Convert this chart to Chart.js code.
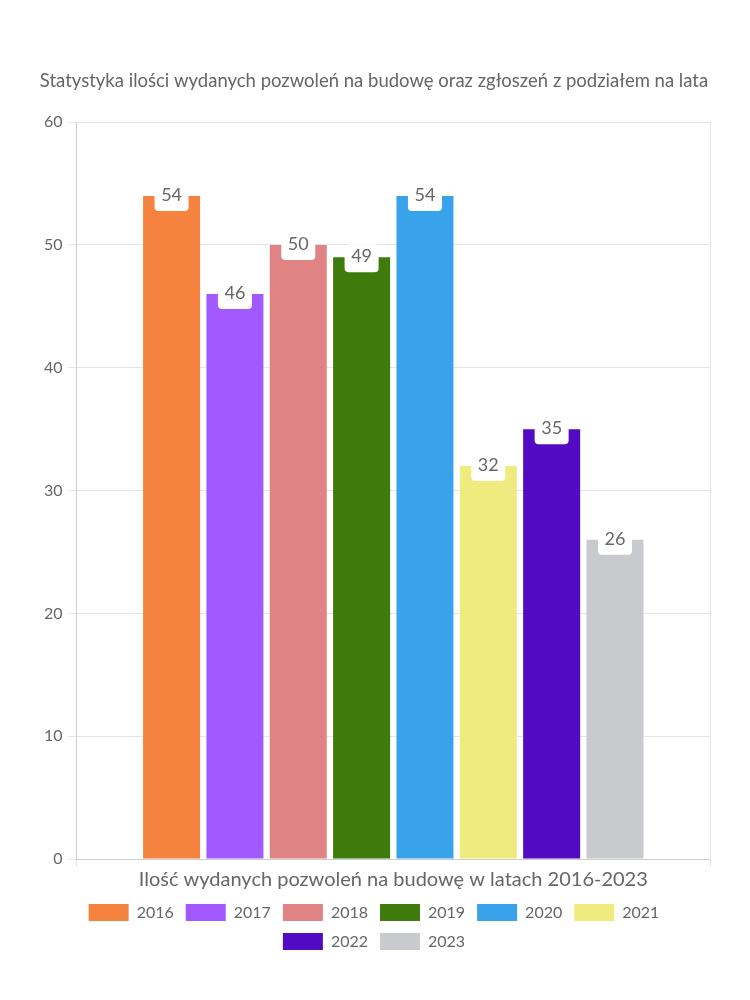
<!DOCTYPE html>
<html>
<head>
<meta charset="utf-8">
<script src="https://cdn.jsdelivr.net/npm/chart.js@4"></script>
<style>
    body { margin: 0; background: #fff; }
    #wrap { width: 750px; height: 1000px; }
</style>
</head>
<body>
<div id="wrap"><canvas id="chart"></canvas></div>
<script>
const categories = ['Ilość wydanych pozwoleń na budowę w latach 2016-2023'];
const years = ['2016', '2017', '2018', '2019', '2020', '2021', '2022', '2023'];
const values = [54, 46, 50, 49, 54, 32, 35, 26];
const colors = ['#F5833F', '#A259FF', '#E08385', '#3E7B0C', '#38A3EB', '#F0EB7E', '#520BC2', '#C9CACD'];

Chart.defaults.font.family = 'Lato, "Noto Sans", sans-serif';
Chart.defaults.color = '#666';

// white callout box with the value, sitting on top of each bar
const valueLabels = {
    id: 'valueLabels',
    afterDatasetsDraw(chart) {
        const ctx = chart.ctx;
        ctx.save();
        chart.data.datasets.forEach(function(ds, i) {
            const bar = chart.getDatasetMeta(i).data[0];
            const x = bar.x, y = bar.y;
            ctx.fillStyle = '#fff';
            ctx.beginPath();
            ctx.roundRect(x - 17, y - 13, 34, 28, 4);
            ctx.fill();
            ctx.fillStyle = '#666';
            ctx.font = '18px Lato, "Noto Sans", sans-serif';
            ctx.textAlign = 'center';
            ctx.textBaseline = 'middle';
            ctx.fillText(String(ds.data[0]), x, y - 1);
        });
        ctx.restore();
    }
};

new Chart(document.getElementById('chart').getContext('2d'), {
    type: 'bar',
    data: {
        labels: categories,
        datasets: years.map(function(y, i) {
            return {
                label: y,
                data: [values[i]],
                backgroundColor: colors[i],
                borderColor: colors[i],
                borderWidth: 0
            };
        })
    },
    options: {
        responsive: true,
        maintainAspectRatio: false,
        animation: false,
        layout: { padding: { left: 38, right: 40, top: 70, bottom: 40 } },
        scales: {
            x: {
                grid: { color: '#e5e5e5', drawOnChartArea: true },
                ticks: { display: false },
                title: {
                    display: true,
                    text: categories[0],
                    font: { size: 20 },
                    padding: { top: 1, bottom: 0 }
                }
            },
            y: {
                min: 0,
                max: 60,
                ticks: { stepSize: 10, font: { size: 16 }, padding: 6 },
                grid: { color: '#e5e5e5' }
            }
        },
        plugins: {
            title: {
                display: true,
                text: 'Statystyka ilości wydanych pozwoleń na budowę oraz zgłoszeń z podziałem na lata',
                font: { size: 18.5, weight: 'normal' },
                padding: { top: 0, bottom: 30 }
            },
            legend: {
                position: 'bottom',
                labels: { boxWidth: 40, boxHeight: 17, font: { size: 16 }, padding: 12 }
            },
            tooltip: { enabled: false }
        }
    },
    plugins: [valueLabels]
});
</script>
</body>
</html>
